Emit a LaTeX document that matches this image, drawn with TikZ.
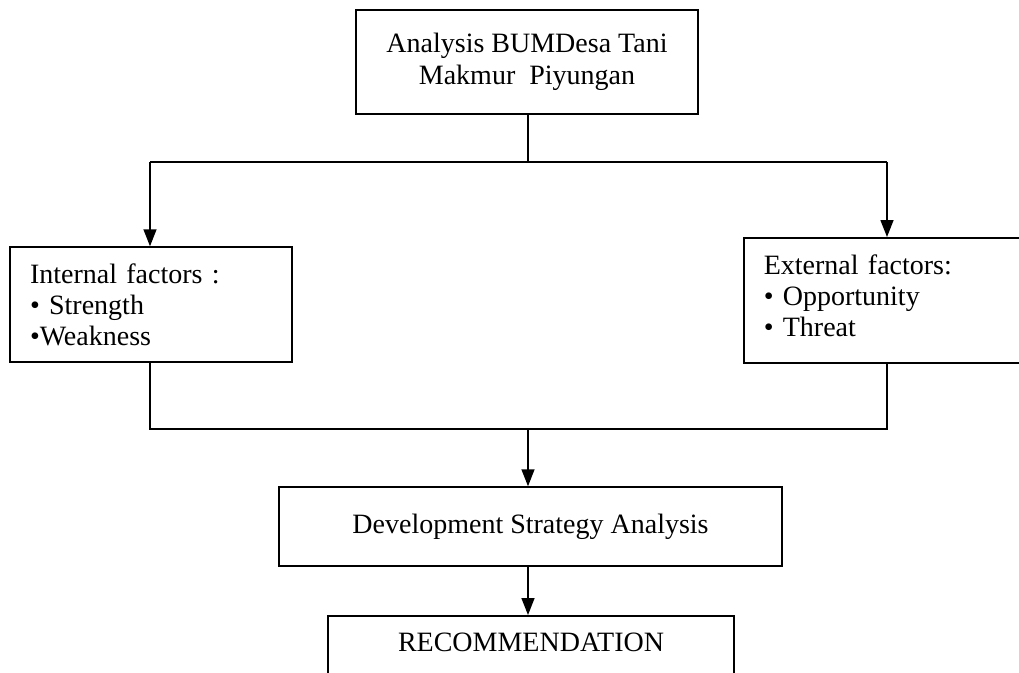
\documentclass[tikz,border=0pt]{standalone}
\usepackage{fontspec}
\setmainfont{Liberation Serif}
\usetikzlibrary{arrows.meta}
\begin{document}
\begin{tikzpicture}[x=1pt,y=-1pt,
  box/.style={draw,line width=1.5pt,inner sep=0pt},
  conn/.style={line width=1.5pt},
  arr/.style={conn,-{Triangle[length=17pt,width=13pt]}},
  txt/.style={font=\fontsize{28}{31}\selectfont}]
\clip (0,0) rectangle (1019,672);
\useasboundingbox (0,0) rectangle (1019,672);
\fill[white] (0,0) rectangle (1019,672);
% boxes
\node[box,txt,minimum width=342pt,minimum height=104pt,align=center] (top) at (527,62)
  {Analysis BUMDesa Tani\\[1pt]Makmur~ Piyungan};
\node[box,txt,minimum width=282pt,minimum height=115pt,inner xsep=20pt,text width=242pt,align=left] (int) at (151,304.5)
  {Internal factors :\\ • Strength\\ •Weakness};
\node[box,txt,minimum width=290pt,minimum height=125pt,inner xsep=20pt,text width=250pt,align=left,anchor=north west] (ext) at (743,237)
  {External factors:\\ • Opportunity\\ • Threat\rule[-9pt]{0pt}{9pt}};
\node[box,txt,minimum width=503pt,minimum height=79pt] (dev) at (530.5,526.5)
  {Development Strategy Analysis};
\node[box,txt,minimum width=406pt,text height=36pt,text depth=50pt,anchor=north] (rec) at (531,615)
  {RECOMMENDATION};
% coordinates
\coordinate (split) at (528,162);
\coordinate (sl) at (150,162);
\coordinate (sr) at (887,162);
\coordinate (ml) at (150,429);
\coordinate (mr) at (887,429);
\coordinate (merge) at (528,429);
% connectors
\draw[conn] (top.south -| split) -- (split);
\draw[conn] (sl) -- (sr);
\draw[arr] (sl) -- (int.north -| sl);
\draw[arr] (sr) -- (ext.north -| sr);
\draw[conn] (int.south -| ml) -- (ml) -- (mr) -- (ext.south -| mr);
\draw[arr] (merge) -- (dev.north -| merge);
\draw[arr] (dev.south -| merge) -- (rec.north -| merge);
\end{tikzpicture}
\end{document}
